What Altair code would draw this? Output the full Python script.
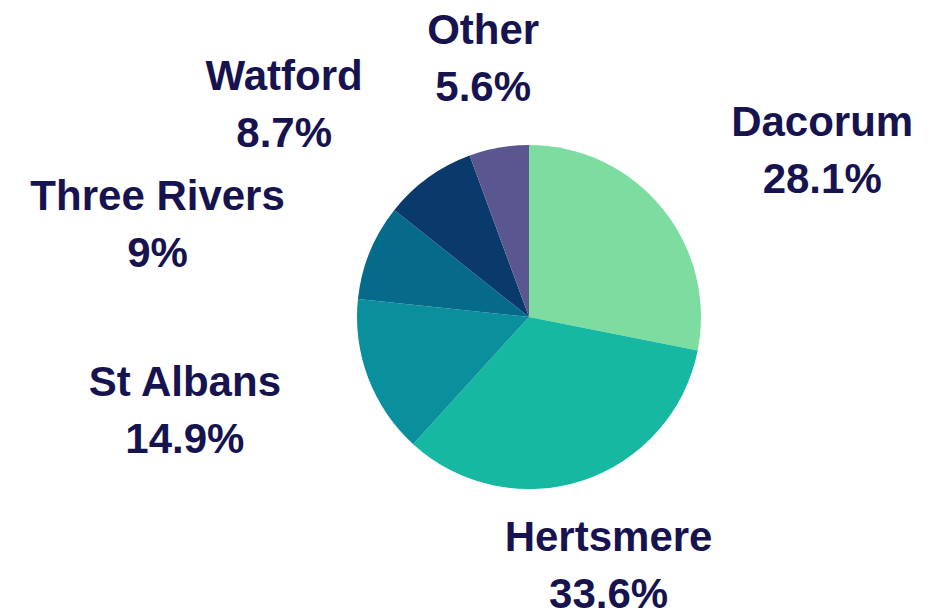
import altair as alt
import pandas as pd

districts = ["Dacorum", "Hertsmere", "St Albans", "Three Rivers", "Watford", "Other"]
shares = [28.1, 33.6, 14.9, 9, 8.7, 5.6]
colors = ["#7ddca0", "#16b8a1", "#0a8f9c", "#066a8b", "#0a3a6b", "#5a5690"]

# label layout nudges (dx, dy) relative to a common label radius
label_radius = 290
label_nudge = {
    "Dacorum": (69, -10),
    "Hertsmere": (-11, -54),
    "St Albans": (-73, -37),
    "Three Rivers": (-103, -10),
    "Watford": (-75, -5),
    "Other": (5, 0),
}

df = pd.DataFrame({"district": districts, "share": shares, "idx": list(range(len(districts)))})
total = float(sum(shares))

CX, CY = 521, 309
TEXT_COLOR = "#16134f"

base = alt.Chart(df)

pie = base.mark_arc(outerRadius=172).encode(
    theta=alt.Theta("share:Q", stack=True),
    color=alt.Color("district:N", scale=alt.Scale(domain=districts, range=colors), legend=None),
    order=alt.Order("idx:Q"),
    x=alt.value(CX),
    y=alt.value(CY),
)

labelled = base.transform_window(
    cum="sum(share)", sort=[alt.SortField("idx")], frame=[None, 0]
).transform_calculate(
    mid="datum.cum - datum.share / 2",
    label="datum.district + '\\n' + datum.share + '%'",
)

layers = [pie]
for name in districts:
    dx, dy = label_nudge[name]
    layers.append(
        labelled.transform_filter(alt.datum.district == name).mark_text(
            radius=label_radius,
            dx=dx,
            dy=dy,
            font="Liberation Sans",
            fontWeight="bold",
            fontSize=42,
            lineHeight=57,
            lineBreak="\n",
            align="center",
            baseline="middle",
            color=TEXT_COLOR,
        ).encode(
            theta=alt.Theta("mid:Q", scale=alt.Scale(domain=[0, total], range=[0, 6.283185307179586])),
            text="label:N",
            x=alt.value(CX),
            y=alt.value(CY),
        )
    )

chart = alt.layer(*layers).resolve_scale(theta="independent").properties(
    width=919, height=606, padding=0, autosize="none", background="white"
).configure_view(stroke=None)

chart.save("out.html", embed_options={"renderer": "svg", "actions": False})
